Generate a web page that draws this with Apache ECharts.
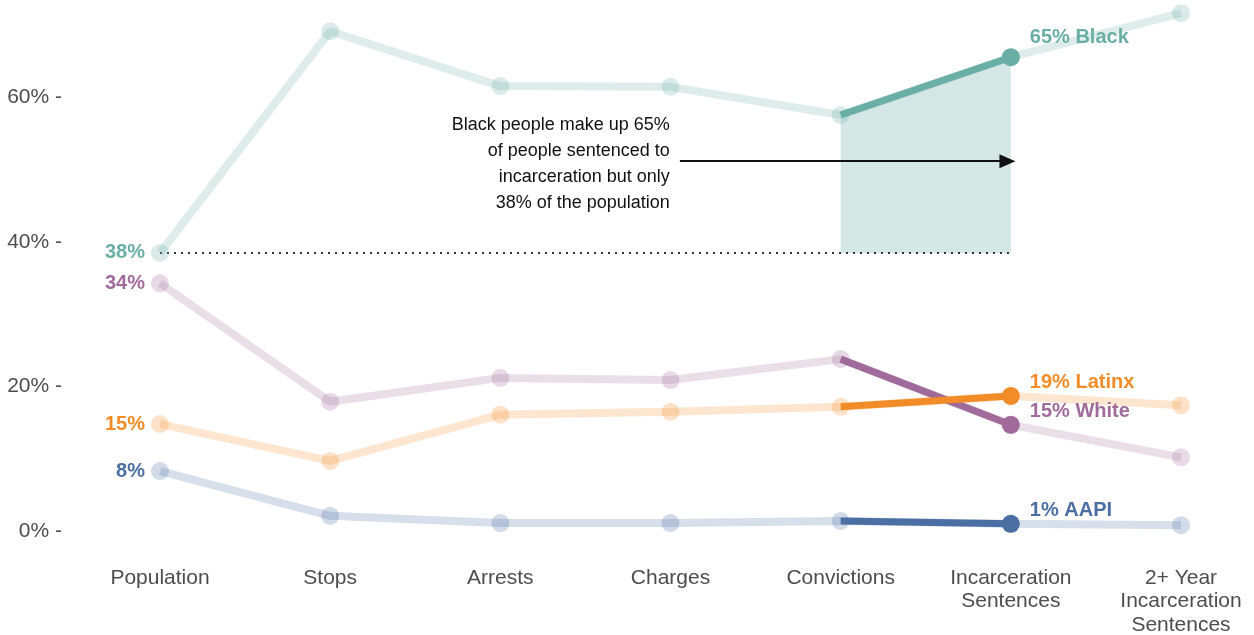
<!DOCTYPE html>
<html><head><meta charset="utf-8">
<script src="https://cdn.jsdelivr.net/npm/echarts@6/dist/echarts.min.js"></script>
<style>html,body{margin:0;padding:0;background:#fff;}#c{width:1254px;height:635px;}</style>
</head><body><div id="c"></div>
<script>
const categories = ['Population','Stops','Arrests','Charges','Convictions','Incarceration\nSentences','2+ Year\nIncarceration\nSentences'];
const black  = [38.5, 69.2, 61.6, 61.5, 57.6, 65.6, 71.7];
const white  = [34.3, 17.9, 21.2, 20.9, 23.8, 14.7, 10.2];
const latinx = [14.8, 9.7, 16.1, 16.5, 17.2, 18.7, 17.4];
const aapi   = [8.3, 2.1, 1.1, 1.1, 1.4, 1.0, 0.8];
const leftLabels  = ['38%', '34%', '15%', '8%'];
const rightLabels = ['65% Black', '19% Latinx', '15% White', '1% AAPI'];
const yTicks = [0, 20, 40, 60];
const annotation = 'Black people make up 65%\nof people sentenced to\nincarceration but only\n38% of the population';
const arrowY = 51.2;
const arrowFrom = 3.055;
const arrowTo = 4.98;
const hlFrom = 4, hlTo = 5;

const groups = [
  {name:'Black', data:black, color:'#6aafa6', left:leftLabels[0], right:rightLabels[0], dy:-20},
  {name:'White', data:white, color:'#a06b9a', left:leftLabels[1], right:rightLabels[2], dy:-13},
  {name:'Latinx', data:latinx, color:'#f28c28', left:leftLabels[2], right:rightLabels[1], dy:-13},
  {name:'AAPI', data:aapi, color:'#4b6fa3', left:leftLabels[3], right:rightLabels[3], dy:-13}
];
const FONT = '"Liberation Sans", Arial, Helvetica, sans-serif';
const series = [];
series.push({
  type:'line', data: black.map((v,i)=> (i>=hlFrom && i<=hlTo) ? v : null),
  symbol:'none', lineStyle:{width:0}, z:1,
  areaStyle:{origin: black[0], color:'#d4e7e5', opacity:1}, silent:true
});
series.push({
  type:'line', data: black.map((v,i)=> i<=hlTo ? black[0] : null),
  symbol:'none', lineStyle:{width:2, color:'#333', type:[2,5]}, z:2, silent:true
});
groups.forEach(g=>{
  series.push({
    type:'line', name:g.name+' all', data: g.data.map((v,i)=> i===0 ? {value:v, label:{show:true, formatter:g.left}} : v),
    symbol:'circle', symbolSize:18, z:3,
    lineStyle:{width:8, color:g.color, opacity:0.22},
    itemStyle:{color:g.color, opacity:0.25, borderWidth:0},
    label:{show:false, position:'left', distance:6, color:g.color, fontWeight:'bold', fontSize:20, fontFamily:FONT, opacity:1}
  });
  series.push({
    type:'line', name:g.name, data: g.data.map((v,i)=> (i>=hlFrom && i<=hlTo) ? (i===hlTo ? {value:v, label:{show:true, formatter:g.right}} : v) : null),
    symbol:'circle', symbolSize:(v,p)=> p.dataIndex===hlTo ? 18 : 0, z:5,
    lineStyle:{width:7, color:g.color},
    itemStyle:{color:g.color},
    label:{show:false, position:'right', distance:10, offset:[0,g.dy], color:g.color, fontWeight:'bold', fontSize:20, fontFamily:FONT}
  });
});
series.push({
  type:'line', data:[], silent:true, xAxisIndex:1,
  markLine:{
    silent:true, symbol:['none','triangle'], symbolSize:[14,16], animation:false,
    lineStyle:{color:'#111', width:2, type:'solid'},
    label:{show:true, position:'start', distance:10, formatter:annotation, align:'right', offset:[0,3],
      fontSize:18, lineHeight:26, color:'#111', fontFamily:FONT},
    data:[[{coord:[arrowFrom, arrowY]}, {coord:[arrowTo, arrowY]}]]
  }
});

const chart = echarts.init(document.getElementById('c'));
chart.setOption({
  animation:false,
  textStyle:{fontFamily:FONT},
  grid:{left:160, right:73, top:11, bottom:104, outerBoundsMode:'none', containLabel:false},
  xAxis:[{type:'category', data:categories, boundaryGap:false,
    axisLine:{show:false}, axisTick:{show:false},
    axisLabel:{color:'#4d4d4d', fontSize:21, lineHeight:23.5, margin:35, interval:0, fontFamily:FONT}},
    {type:'value', min:0, max:categories.length-1, show:false}],
  yAxis:{type:'value', min:0, max:72, interval:20, offset:98,
    splitLine:{show:false}, axisLine:{show:false}, axisTick:{show:false},
    axisLabel:{color:'#4d4d4d', fontSize:21, margin:0, fontFamily:FONT, padding:[2,0,0,0],
      formatter:v=> yTicks.includes(v) ? v+'% -' : ''}},
  series:series
});
</script></body></html>
